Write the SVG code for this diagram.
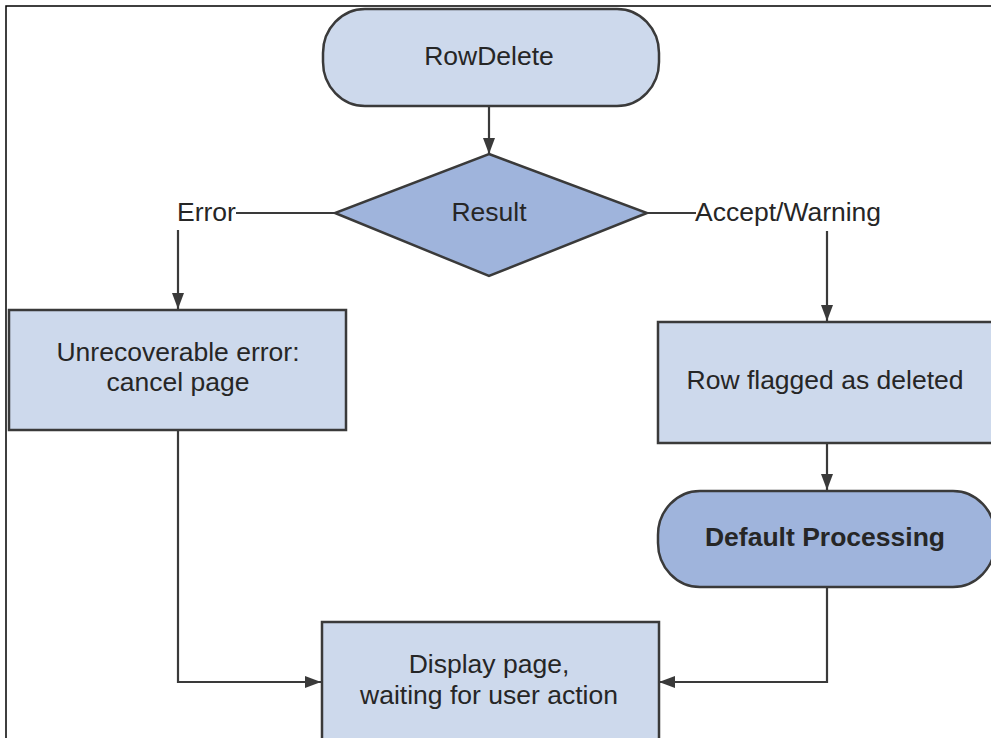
<svg xmlns="http://www.w3.org/2000/svg" width="991" height="738" viewBox="0 0 991 738">
<defs>
<style>
.shape{stroke:#3a3a3a;stroke-width:2.5}
.light{fill:#cdd9ec}
.dark{fill:#9fb4dc}
.t{font-family:"Liberation Sans",Arial,sans-serif;font-size:26.5px;fill:#262626;text-anchor:middle}
.lbl{font-family:"Liberation Sans",Arial,sans-serif;font-size:26.5px;fill:#262626}
.b{font-weight:bold}
.conn{fill:none;stroke:#3a3a3a;stroke-width:2.2}
</style>
<marker id="arr" viewBox="0 0 16 12" refX="16" refY="6" markerWidth="16" markerHeight="12" markerUnits="userSpaceOnUse" orient="auto">
<path d="M0,0 L16,6 L0,12 Z" fill="#3a3a3a"/>
</marker>
</defs>
<rect x="0" y="0" width="991" height="738" fill="#fff"/>
<path d="M6,738 V6 H991" fill="none" stroke="#000" stroke-width="1.5"/>

<g id="connectors">
<path class="conn" d="M489,106 V154" marker-end="url(#arr)"/>
<path class="conn" d="M335,213 H236"/>
<path class="conn" d="M178,230 V309" marker-end="url(#arr)"/>
<path class="conn" d="M647,213 H696"/>
<path class="conn" d="M827,231 V321" marker-end="url(#arr)"/>
<path class="conn" d="M827,443 V490" marker-end="url(#arr)"/>
<path class="conn" d="M178,430 V682 H321" marker-end="url(#arr)"/>
<path class="conn" d="M827,587 V682 H659" marker-end="url(#arr)"/>
<text class="lbl" x="177" y="221">Error</text>
<text class="lbl" x="695" y="221">Accept/Warning</text>
</g>

<g id="rowdelete">
<rect class="shape light" x="323" y="9" width="336" height="97" rx="42" ry="44"/>
<text class="t" x="489" y="65">RowDelete</text>
</g>

<g id="result">
<polygon class="shape dark" points="489,154 647,213 489,276 335,213"/>
<text class="t" x="489" y="221">Result</text>
</g>

<g id="unrecoverable">
<rect class="shape light" x="9" y="310" width="337" height="120"/>
<text class="t" x="178" y="361">Unrecoverable error:</text>
<text class="t" x="178" y="391">cancel page</text>
</g>

<g id="flagged">
<rect class="shape light" x="658" y="322" width="337" height="121"/>
<text class="t" x="825" y="389">Row flagged as deleted</text>
</g>

<g id="default">
<rect class="shape dark" x="658" y="491" width="337" height="96" rx="42" ry="44"/>
<text class="t b" x="825" y="546">Default Processing</text>
</g>

<g id="display">
<rect class="shape light" x="322" y="622" width="337" height="130"/>
<text class="t" x="489" y="673">Display page,</text>
<text class="t" x="489" y="704">waiting for user action</text>
</g>
</svg>
